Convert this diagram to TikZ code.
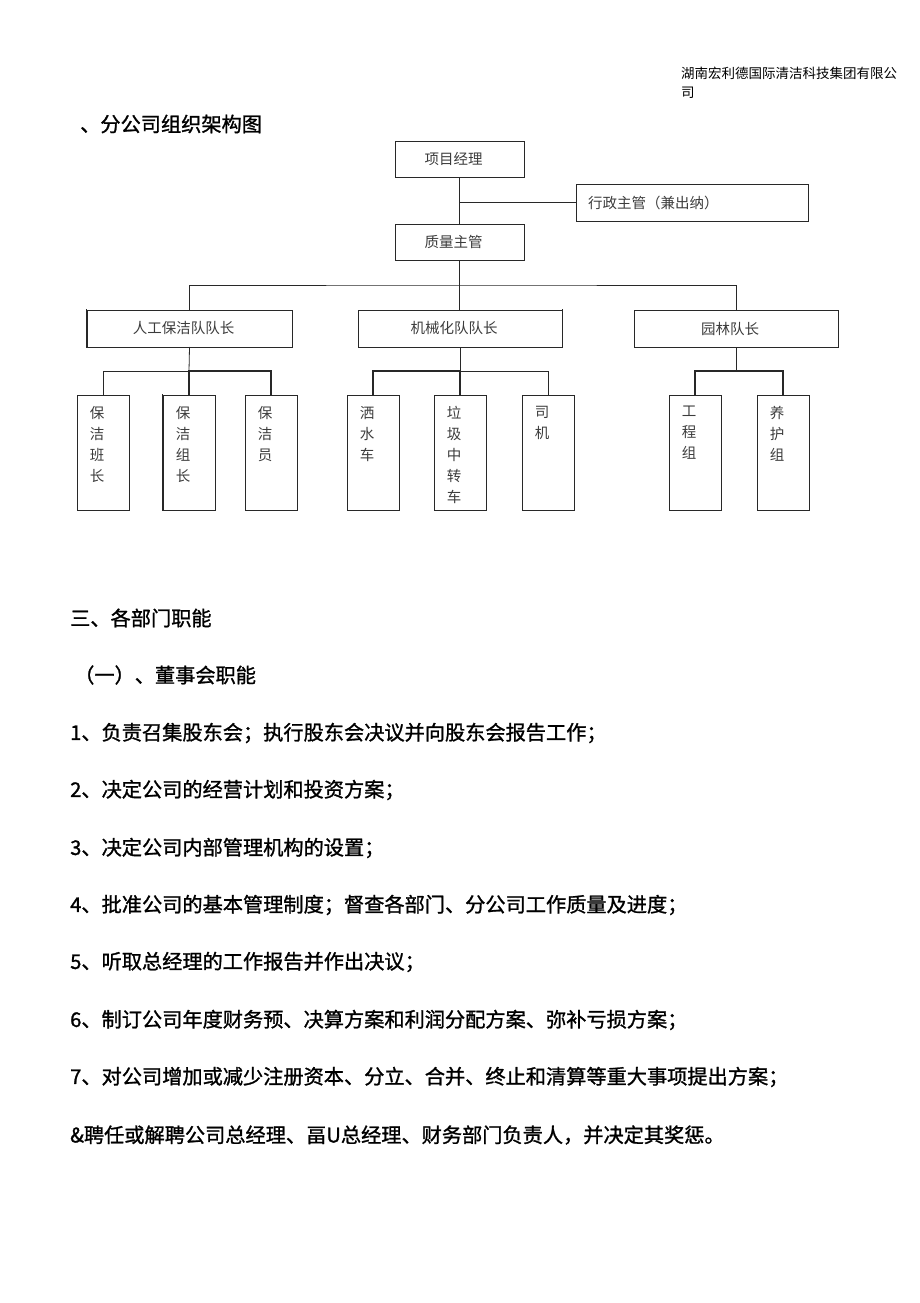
\documentclass[tikz,border=0pt]{standalone}
\usepackage{fontspec}
\setmainfont{Noto Sans CJK SC}
\newfontfamily\bodycjk{Noto Sans CJK SC}[FakeBold=1.2]
\usepackage{tikz}

\begin{document}
\begin{tikzpicture}[x=1pt,y=-1pt,line cap=rect,
		unitbox/.style={draw=custcol_line, line width=0.8pt, inner sep=0pt, minimum height=37pt, text=custcol_ink, font=\chartfont, execute at end node={\hspace{12pt}}},
		leafbox/.style={draw=custcol_line, line width=0.8pt, inner xsep=0pt, inner ysep=6pt, minimum width=52pt, minimum height=115pt, text=custcol_ink, font=\chartfont, execute at end node={\hspace{12pt}}},
		link/.style={draw=custcol_line, line width=0.8pt},
		heavy/.style={draw=custcol_line, line width=1.6pt},
		bodyline/.style={anchor=west, inner sep=0pt, font=\bodyfont}]
				\def\chartfont{\fontsize{14.5pt}{21pt}\selectfont} % box labels
				\def\bodyfont{\bodycjk\fontsize{20.2pt}{20pt}\selectfont} % page text
				\def\headfont{\fontsize{13.5pt}{19pt}\selectfont}
				\def\stack#1{\parbox[c][103pt][t]{20pt}{\centering\vspace*{5pt}#1}}
				\definecolor{custcol_line}{RGB}{40, 40, 40}
				\definecolor{custcol_ink}{RGB}{60, 60, 60}
				\useasboundingbox (0,0) rectangle (920,1303);
				% page head
				\node[anchor=north west, inner sep=0pt, font=\headfont, align=left] (corp) at (681,67) {湖南宏利德国际清洁科技集团有限公\\司};
				\node[bodyline] (title) at (80,124) {、分公司组织架构图};
				% chart boxes
				\node[unitbox, minimum width=129pt, minimum height=36pt] (pm) at (459.5,159) {项目经理};
				\node[unitbox, minimum width=232pt, text width=208pt, align=left, inner xsep=12pt, execute at end node={}] (admin) at (692,202.5) {行政主管（兼出纳）};
				\node[unitbox, minimum width=129pt, minimum height=36pt] (qm) at (459.5,242) {质量主管};
				\node[unitbox, minimum width=205pt] (t1) at (189.5,328.5) {人工保洁队队长};
				\node[unitbox, minimum width=204pt] (t2) at (460,328.5) {机械化队队长};
				\node[unitbox, minimum width=204pt] (t3) at (736,328.5) {园林队长};
				\node[leafbox] (a1) at (103,452.5) {\stack{保\\洁\\班\\长}};
				\node[leafbox] (a2) at (189,452.5) {\stack{保\\洁\\组\\长}};
				\node[leafbox] (a3) at (271,452.5) {\stack{保\\洁\\员}};
				\node[leafbox] (b1) at (373,452.5) {\stack{洒\\水\\车}};
				\node[leafbox] (b2) at (460,452.5) {\stack{垃\\圾\\中\\转\\车}};
				\node[leafbox] (b3) at (548,452.5) {\stack{司\\机}};
				\node[leafbox] (c1) at (695,452.5) {\stack{工\\程\\组}};
				\node[leafbox] (c2) at (783,452.5) {\stack{养\\护\\组}};
				% chart lines
				\coordinate (bus) at (460,285);
				\coordinate (brA) at (189,371);
				\coordinate (brB) at (460,371);
				\coordinate (brC) at (736,371);
				\draw[link] (pm.south) -- (qm.north);
				\draw[link] (admin.west) -- (admin.west -| pm.south);
				\draw[link] (qm.south) -- (qm.south |- t2.north);
				\draw[link] (t1.north) |- (bus) -| (t3.north);
				\draw[link] (t1.south) -- (brA);
				\draw[link] (a1.north) |- (brA);
				\draw[heavy] (brA) -| (a3.north);
				\draw[heavy] (brA) -- (a2.north);
				\draw[link] (t2.south) -- (brB);
				\draw[heavy] (b1.north) |- (brB);
				\draw[link] (brB) -| (b3.north);
				\draw[heavy] (brB) -- (b2.north);
				\draw[link] (t3.south) -- (brC);
				\draw[heavy] (c1.north) |- (brC) -| (c2.north);
				\draw[heavy] (t1.north west) -- (t1.south west);
				\draw[heavy] (a2.north west) -- (a2.south west);
				\draw[heavy] (t2.north east) -- (t2.south east);
				% duties text
				\node[bodyline] (sec3) at (70,618) {三、各部门职能};
				\node[bodyline] (sub1) at (74,675) {（一）、董事会职能};
				\node[bodyline] (d1) at (70,733) {1、负责召集股东会；执行股东会决议并向股东会报告工作；};
				\node[bodyline] (d2) at (70,790) {2、决定公司的经营计划和投资方案；};
				\node[bodyline] (d3) at (70,848) {3、决定公司内部管理机构的设置；};
				\node[bodyline] (d4) at (70,905) {4、批准公司的基本管理制度；督查各部门、分公司工作质量及进度；};
				\node[bodyline] (d5) at (70,962) {5、听取总经理的工作报告并作出决议；};
				\node[bodyline] (d6) at (70,1020) {6、制订公司年度财务预、决算方案和利润分配方案、弥补亏损方案；};
				\node[bodyline] (d7) at (70,1077) {7、对公司增加或减少注册资本、分立、合并、终止和清算等重大事项提出方案；};
				\node[bodyline] (d8) at (70,1135) {\&聘任或解聘公司总经理、畐U总经理、财务部门负责人，并决定其奖惩。};
			\end{tikzpicture}
\end{document}
